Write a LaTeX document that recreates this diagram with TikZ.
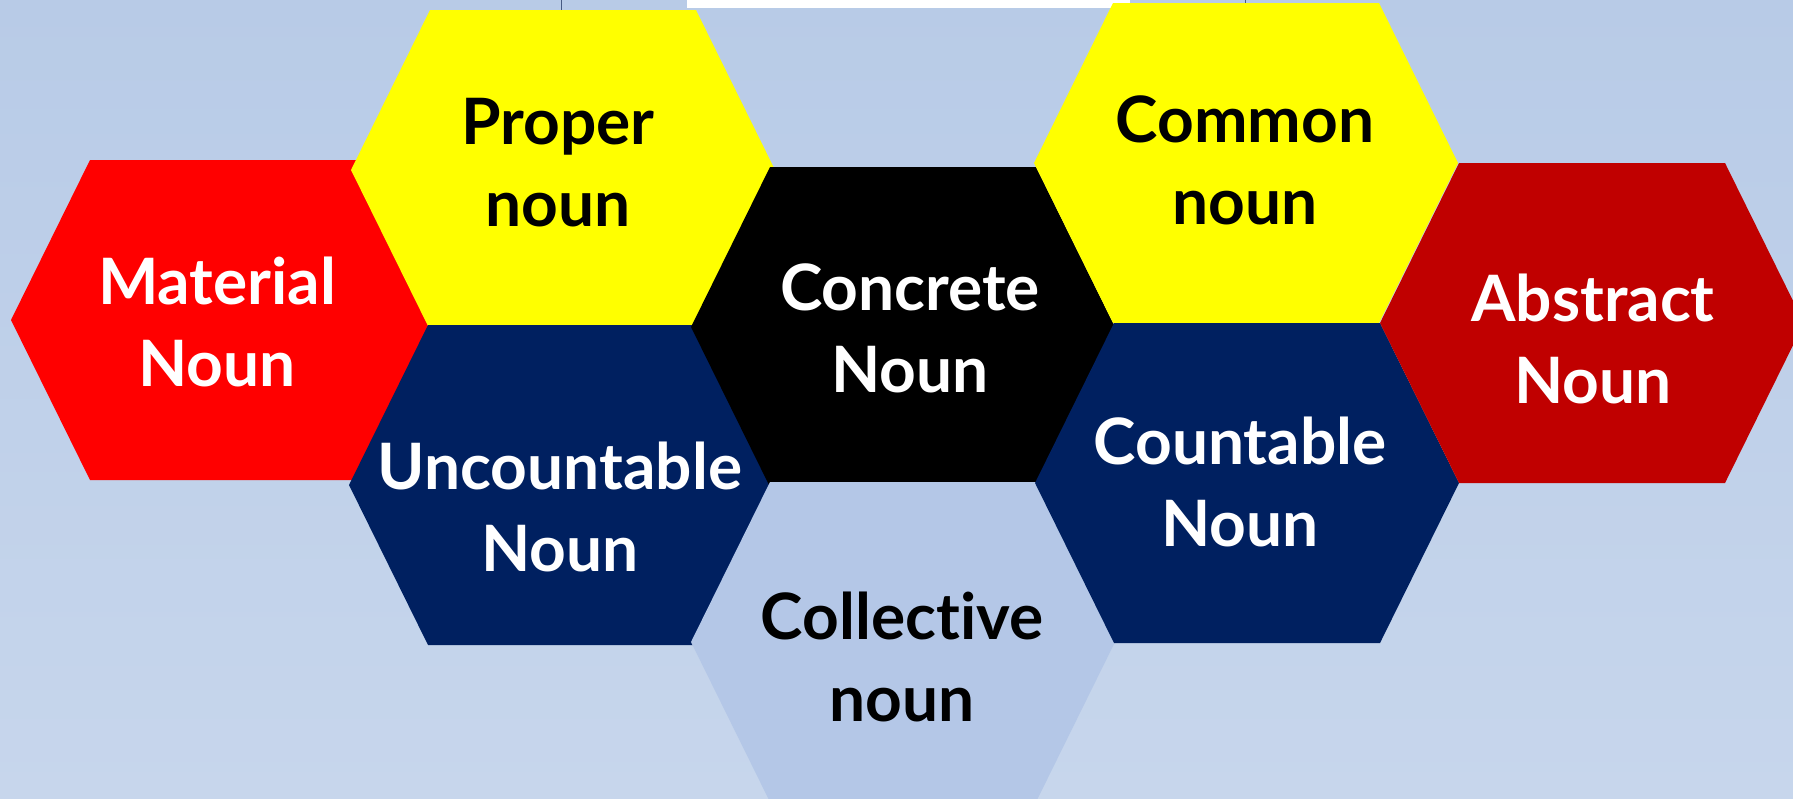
\documentclass[tikz,border=0pt]{standalone}
\usepackage{fontspec}
\setmainfont{Lato}[Ligatures=NoCommon]
\definecolor{bgtop}{RGB}{184,203,231}
\definecolor{bgbot}{RGB}{199,214,236}
\definecolor{navy}{RGB}{0,32,96}
\definecolor{darkred}{RGB}{192,0,0}
\definecolor{hexred}{RGB}{255,0,0}
\definecolor{hexyellow}{RGB}{255,255,0}
\definecolor{paleblue}{RGB}{180,199,231}
\definecolor{pinline}{RGB}{70,90,130}
% flat-topped hexagon centred at (#1,#2), filled with #3
\newcommand{\hexcell}[3]{%
  \fill[#3, shift={(#1,#2)}] (-212,0) -- (-133,-160) -- (133,-160) -- (212,0)
    -- (133,160) -- (-133,160) -- cycle;}
\begin{document}
\begin{tikzpicture}[x=0.5pt, y=-0.5pt,
  nountext/.style={font=\bfseries\fontsize{32}{41}\selectfont, align=center, inner sep=0pt},
  light/.style={nountext, text=white},
  dark/.style={nountext, text=black}]
	\useasboundingbox (0,0) rectangle (1793,798);
	\fill[top color=bgtop, bottom color=bgbot] (0,0) rectangle (1793,798);
	% bits at the top edge
	\fill[white] (687,0) rectangle (1130,8);
	\draw[pinline, line width=0.4pt] (561,0) -- (561,10);
	\draw[pinline, line width=0.4pt] (1245,0) -- (1245,4);
	% the cells
	\hexcell{223}{320}{hexred}
	\hexcell{563}{170}{hexyellow}
	\hexcell{561}{485}{navy}
	\hexcell{903}{327}{black}
	\hexcell{903}{642}{paleblue}
	\hexcell{1246}{163}{hexyellow}
	\hexcell{1247}{483}{navy}
	\hexcell{1592}{323}{darkred}
	% the names
	\node[light] (material) at (217,322) {Material\\Noun};
	\node[dark] (proper) at (558,163) {Proper\\noun};
	\node[light] (uncountable) at (560,507) {Uncountable\\Noun};
	\node[light] (concrete) at (910,328) {Concrete\\Noun};
	\node[dark] (collective) at (902,657) {Collective\\noun};
	\node[dark] (common) at (1245,160) {Common\\noun};
	\node[light] (countable) at (1240,482) {Countable\\Noun};
	\node[light] (abstract) at (1593,339) {Abstract\\Noun};
\end{tikzpicture}
\end{document}
